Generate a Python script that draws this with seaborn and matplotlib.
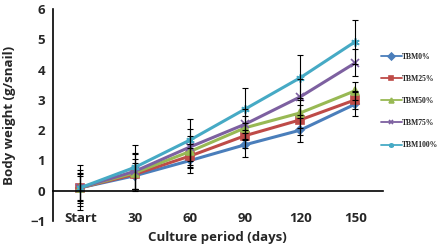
import matplotlib.pyplot as plt
import numpy as np
import pandas as pd
import seaborn as sns

# Body weight of snails over the culture period for each TBM diet level

days = ["Start", "30", "60", "90", "120", "150"]
groups = ["TBM0%", "TBM25%", "TBM50%", "TBM75%", "TBM100%"]

tbm0 = [0.10, 0.50, 1.00, 1.52, 2.00, 2.86]
tbm25 = [0.10, 0.55, 1.15, 1.82, 2.34, 3.00]
tbm50 = [0.10, 0.60, 1.30, 2.08, 2.57, 3.30]
tbm75 = [0.10, 0.65, 1.45, 2.20, 3.10, 4.22]
tbm100 = [0.10, 0.78, 1.68, 2.70, 3.73, 4.92]

sd0 = [0.60, 0.43, 0.40, 0.40, 0.40, 0.40]
sd25 = [0.50, 0.50, 0.40, 0.40, 0.50, 0.30]
sd50 = [0.45, 0.60, 0.50, 0.40, 0.50, 0.30]
sd75 = [0.40, 0.60, 0.60, 0.50, 0.60, 0.45]
sd100 = [0.75, 0.72, 0.70, 0.70, 0.75, 0.73]

palette = ["#4A7EBB", "#BE4B48", "#98B954", "#7D60A0", "#46AAC5"]
markers = ["D", "s", "^", "x", (6, 2, 0)]
msizes = [4, 6, 6, 6, 6]

values = [tbm0, tbm25, tbm50, tbm75, tbm100]
sds = [sd0, sd25, sd50, sd75, sd100]

rows = []
for g, v, s in zip(groups, values, sds):
    for i, d in enumerate(days):
        rows.append({"pos": i, "day": d, "group": g, "weight": v[i], "sd": s[i]})
df = pd.DataFrame(rows)

sns.set_style("white")
plt.rcParams["font.family"] = ["Open Sans", "DejaVu Sans"]

fig = plt.figure(figsize=(4.41, 2.47), dpi=100)
ax = fig.add_axes([0.120, 0.105, 0.748, 0.859])

for i, g in enumerate(groups):
    sub = df[df["group"] == g]
    sns.lineplot(data=sub, x="pos", y="weight", color=palette[i], marker=markers[i],
                 markersize=msizes[i], markeredgecolor=palette[i], markeredgewidth=1.2,
                 linewidth=2.2, label=g, ax=ax, zorder=2)
for i, g in enumerate(groups):
    sub = df[df["group"] == g]
    ax.errorbar(sub["pos"], sub["weight"], yerr=sub["sd"], fmt="none", ecolor="black",
                elinewidth=0.8, capsize=2.2, capthick=0.8, zorder=3)

ax.set_xlim(-0.5, len(days) - 0.5)
ax.set_ylim(-1, 6)
ax.set_yticks(range(-1, 7))
ax.set_xticks(range(len(days)))
ax.set_xticklabels(days)
ax.set_xticks(np.arange(-0.5, len(days)), minor=True)

for side in ["top", "right"]:
    ax.spines[side].set_visible(False)
for side in ["left", "bottom"]:
    ax.spines[side].set_linewidth(1.2)
    ax.spines[side].set_color("black")
ax.spines["bottom"].set_position(("data", 0))

ax.tick_params(axis="x", which="major", length=0, pad=15, labelsize=9.5)
ax.tick_params(axis="x", which="minor", length=4, width=1.2, direction="out", color="black")
ax.tick_params(axis="y", length=3.5, width=1.2, direction="out", pad=2, labelsize=9.5, color="black")
for lab in ax.get_xticklabels() + ax.get_yticklabels():
    lab.set_fontweight("bold")

ax.set_xlabel("Culture period (days)", fontsize=9.5, fontweight="bold", va="center")
ax.set_ylabel("Body weight (g/snail)", fontsize=9.5, fontweight="bold", va="center")
ax.xaxis.set_label_coords(0.5, -16 / 212)
ax.yaxis.set_label_coords(-43 / 330, 0.5)

leg = ax.legend(loc="upper left", bbox_to_anchor=(381 / 441, 1 - 53 / 247),
                bbox_transform=fig.transFigure, frameon=False,
                prop={"family": "Liberation Serif", "weight": "bold", "size": 5.5},
                handlelength=2.7, handletextpad=0.1, labelspacing=1.84,
                borderpad=0, borderaxespad=0)
for h in leg.legend_handles:
    h.set_linewidth(1.3)
    h.set_markersize(3.5)

fig.savefig("out.png", dpi=100)
